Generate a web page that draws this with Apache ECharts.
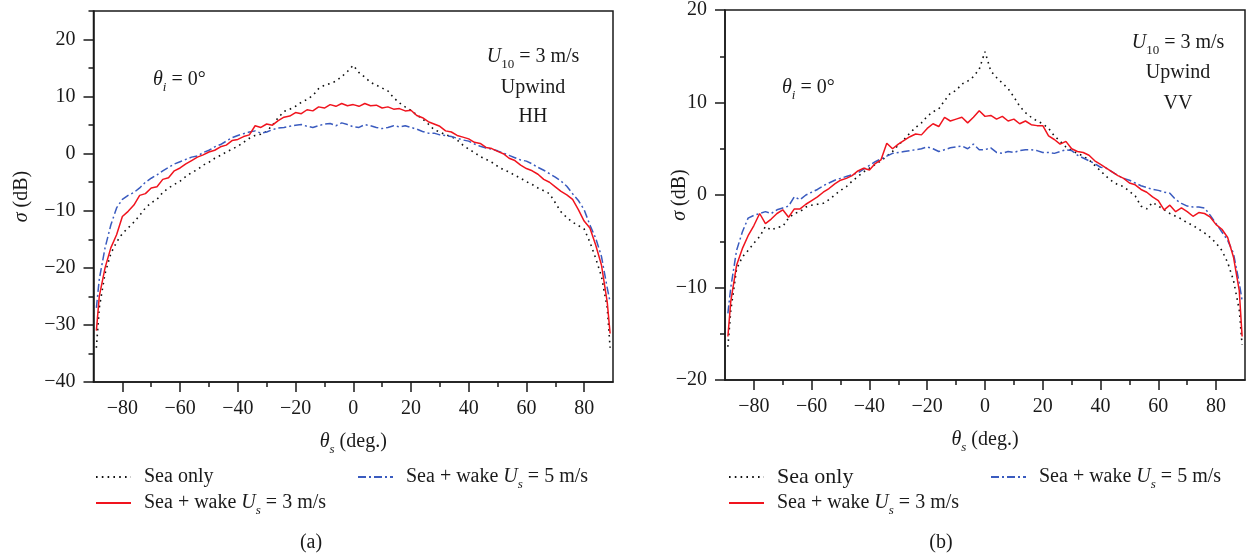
<!DOCTYPE html>
<html>
<head>
<meta charset="utf-8">
<script src="https://cdn.jsdelivr.net/npm/echarts@6/dist/echarts.min.js"></script>
<style>
html,body{margin:0;padding:0;background:#fff;}
#chart{width:1252px;height:557px;}
</style>
</head>
<body>
<div id="chart"></div>
<script>
// scattering angle theta_s (deg.)
const theta = [-89,-88,-86,-84,-82,-80,-78,-76,-74,-72,-70,-68,-66,-64,-62,-60,-58,-56,-54,-52,-50,-48,-46,-44,-42,-40,-38,-36,-34,-32,-30,-28,-26,-24,-22,-20,-18,-16,-14,-12,-10,-8,-6,-4,-2,0,2,4,6,8,10,12,14,16,18,20,22,24,26,28,30,32,34,36,38,40,42,44,46,48,50,52,54,56,58,60,62,64,66,68,70,72,74,76,78,80,82,84,86,88,89];

// (a) HH
const hhSea = [-34,-27,-21,-17.5,-15.5,-14,-13,-12,-10.8,-9.5,-8.6,-8.0,-6.8,-6.0,-5.4,-4.8,-4.0,-3.3,-2.8,-2.0,-1.5,-0.8,-0.3,0.3,0.8,1.3,2.0,2.7,3.2,3.4,3.9,5.0,6.3,7.4,7.8,8.3,9.0,9.5,10.2,11.4,12.0,12.3,12.7,13.5,14.4,15.5,14.2,13.4,12.5,12.0,11.5,11.0,9.8,8.9,8.2,7.6,6.8,6.1,5.2,4.2,3.8,3.3,3.0,2.4,1.5,0.8,0.2,-0.5,-1.0,-1.5,-2.2,-2.8,-3.2,-3.8,-4.3,-4.9,-5.4,-6.0,-6.5,-7.0,-8.6,-10.2,-11.2,-12.0,-12.6,-13.2,-15.5,-18.3,-21.5,-27,-34];
const hhWake3 = [-31,-25,-20,-16.5,-14.2,-11,-10.1,-9,-7.3,-7,-6.0,-5.8,-4.5,-4.2,-3.0,-2.5,-1.8,-1.2,-0.6,-0.2,0.3,0.6,1.2,1.5,2.3,2.5,3.0,3.3,4.9,4.6,5.2,5.0,5.8,6.4,6.6,7.2,7.0,7.7,7.5,8.2,8.0,8.6,8.3,8.8,8.4,8.6,8.3,8.8,8.4,8.5,8.0,8.2,7.8,7.9,7.5,7.6,6.7,6.3,5.6,5.2,4.8,4.0,3.8,3.2,2.9,2.6,2.0,1.8,1.1,0.9,0.4,0.0,-0.8,-1.2,-2.0,-2.6,-3.0,-3.6,-4.5,-5.0,-5.8,-6.6,-7.2,-8.0,-9.8,-11.8,-13,-16,-19.5,-26,-31.5];
const hhWake5 = [-27,-22,-16.5,-12.5,-9.5,-8.0,-7.3,-6.8,-6.0,-5.0,-4.3,-3.7,-3.0,-2.4,-1.8,-1.4,-1.0,-0.6,-0.4,0.2,0.6,1.2,1.6,2.2,2.8,3.2,3.5,3.8,4.0,3.6,3.8,4.2,4.5,4.6,4.8,5.0,5.1,4.8,4.6,4.9,5.2,5.3,4.9,5.4,5.1,4.7,4.6,5.1,4.9,4.6,4.4,4.6,4.9,4.7,4.9,4.6,4.3,3.9,3.6,3.6,3.3,3.2,3.0,2.7,2.4,2.2,1.7,1.3,1.0,0.8,0.5,0.1,-0.3,-0.7,-1.1,-1.3,-1.8,-2.4,-2.9,-3.5,-4.1,-4.8,-5.7,-7.0,-8.2,-9.8,-12.5,-14.8,-18,-23.5,-26];

// (b) VV
const vvSea = [-16.4,-12.5,-8.0,-6.7,-6.0,-5.2,-4.5,-3.4,-3.8,-3.5,-3.4,-2.5,-2.0,-1.8,-1.3,-1.1,-1.0,-0.9,-0.5,0.0,0.5,0.9,1.5,2.0,2.5,2.9,3.3,3.7,4.2,4.7,5.4,6.0,6.7,7.3,7.8,8.5,9.0,9.3,10.2,11.0,11.3,12.0,12.3,12.8,13.6,15.5,13.4,12.7,12.1,11.5,10.6,9.6,8.9,8.4,8.0,7.7,7.2,6.4,5.8,5.2,4.8,4.5,4.2,3.8,3.2,2.6,2.0,1.5,1.1,0.9,0.4,-0.1,-1.2,-1.5,-0.8,-1.2,-1.6,-2.0,-2.3,-2.6,-3.0,-3.3,-3.7,-4.1,-4.6,-5.2,-6.0,-7.3,-9.2,-12.4,-16.2];
const vvWake3 = [-15.3,-11.5,-7.6,-5.8,-4.4,-3.3,-2.0,-3.1,-2.6,-2.0,-1.6,-2.4,-1.5,-1.5,-1.0,-0.6,-0.2,0.3,0.7,1.2,1.6,1.8,2.1,2.6,2.9,2.7,3.4,3.8,5.6,5.0,5.5,5.9,6.3,6.6,6.5,7.2,7.7,7.4,8.4,8.0,8.2,8.4,7.8,8.4,9.1,8.5,8.6,8.2,8.5,8.0,8.2,7.7,8.0,7.6,7.5,7.5,6.4,6.0,5.5,5.8,5.0,4.7,4.6,4.3,3.7,3.3,2.9,2.5,2.1,1.8,1.3,1.1,0.6,0.3,-0.2,-0.6,-1.6,-1.1,-1.8,-1.4,-1.8,-2.3,-1.9,-2.0,-2.4,-3.2,-3.7,-4.6,-6.7,-10.3,-15.3];
const vvWake5 = [-12.8,-10,-6,-4.0,-2.5,-2.2,-2.0,-1.8,-2.0,-1.6,-1.4,-1.2,-0.2,-0.5,0.0,0.3,0.6,1.0,1.3,1.6,1.8,2.0,2.2,2.4,2.8,3.2,3.6,3.9,4.2,4.5,4.6,4.7,4.8,4.9,5.0,5.2,5.0,4.7,4.9,5.1,5.2,5.3,5.0,5.5,4.9,4.9,5.1,4.6,4.5,4.7,4.6,4.8,4.9,4.9,4.8,4.6,4.6,4.5,4.7,4.9,4.8,4.3,4.0,3.7,3.4,3.0,2.9,2.5,2.1,1.8,1.6,1.3,1.0,0.8,0.6,0.5,0.3,0.2,-0.5,-0.9,-1.2,-1.3,-1.3,-1.4,-2.2,-3.1,-4.0,-4.9,-6.3,-9.5,-11.4];

// tick values
const xMajor = [-80,-60,-40,-20,0,20,40,60,80];
const xMinor = [-70,-50,-30,-10,10,30,50,70];
const yMajorA = [-40,-30,-20,-10,0,10,20];
const yMinorA = [-35,-25,-15,-5,5,15,25];
const yMajorB = [-20,-10,0,10,20];
const yMinorB = [-15,-5,5,15];

const FONT = 'Liberation Serif';
const INK = '#1a1a1a';
const rich = {
  n: {fontFamily: FONT, fontSize: 20, color: INK, lineHeight: 28},
  i: {fontFamily: FONT, fontSize: 20, fontStyle: 'italic', color: INK, lineHeight: 28},
  sub: {fontFamily: FONT, fontSize: 13, fontStyle: 'italic', color: INK, lineHeight: 13, verticalAlign: 'bottom'},
  subr: {fontFamily: FONT, fontSize: 13, color: INK, lineHeight: 13, verticalAlign: 'bottom'},
  gap: {width: 8}
};
const richBig = Object.assign({}, rich, {nb: {fontFamily: FONT, fontSize: 22, color: INK, lineHeight: 28}});

const pair = arr => theta.map((t, k) => [t, arr[k]]);
const fmt = v => (v < 0 ? '\u2212' + (-v) : '' + v);

function xAxes(grid) {
  return [
    {gridIndex: grid, type: 'value', min: -90, max: 90, interval: 10, position: 'bottom',
     axisLine: {show: true, onZero: false, lineStyle: {color: INK, width: 1.5}},
     axisTick: {show: true, customValues: xMajor, length: 10, lineStyle: {color: INK, width: 1.5}},
     axisLabel: {show: true, customValues: xMajor, margin: 17, fontFamily: FONT, fontSize: 20, color: INK, formatter: fmt},
     splitLine: {show: false},
     name: '{i|θ}{sub|s}{n| (deg.)}', nameLocation: 'middle', nameGap: 46, nameMoveOverlap: false,
     nameTextStyle: {rich: rich}},
    {gridIndex: grid, type: 'value', min: -90, max: 90, interval: 10, position: 'bottom',
     axisLine: {show: false, onZero: false},
     axisTick: {show: true, customValues: xMinor, length: 5, lineStyle: {color: INK, width: 1.5}},
     axisLabel: {show: false}, splitLine: {show: false}}
  ];
}
function yAxes(grid, min, max, major, minor, gap) {
  return [
    {gridIndex: grid, type: 'value', min: min, max: max, interval: 10, position: 'left',
     axisLine: {show: true, onZero: false, lineStyle: {color: INK, width: 1.5}},
     axisTick: {show: true, customValues: major, length: 10, lineStyle: {color: INK, width: 1.5}},
     axisLabel: {show: true, customValues: major, margin: 18, fontFamily: FONT, fontSize: 20, color: INK, formatter: fmt},
     splitLine: {show: false},
     name: '{i|σ}{n| (dB)}', nameLocation: 'middle', nameGap: gap, nameRotate: 90, nameMoveOverlap: false,
     nameTextStyle: {rich: rich}},
    {gridIndex: grid, type: 'value', min: min, max: max, interval: 10, position: 'left',
     axisLine: {show: false, onZero: false},
     axisTick: {show: true, customValues: minor, length: 5, lineStyle: {color: INK, width: 1.5}},
     axisLabel: {show: false}, splitLine: {show: false}}
  ];
}

const styles = {
  'Sea only': {color: '#111', width: 1.6, type: [1.6, 4.2]},
  'Sea + wake 5': {color: '#3a5bbf', width: 1.5, type: [8, 3, 2, 3]},
  'Sea + wake 3': {color: '#f0141e', width: 1.5, type: 'solid'}
};
function mkSeries(name, arr, ax) {
  const s = styles[name];
  return {name: name, type: 'line', xAxisIndex: ax, yAxisIndex: ax, data: pair(arr),
    showSymbol: false, symbol: 'none', animation: false, silent: true,
    itemStyle: {color: s.color},
    lineStyle: {color: s.color, width: s.width, type: s.type, cap: 'butt'}};
}

const legendText = {
  'Sea only': '{gap|}{n|Sea only}',
  'Sea + wake 3': '{gap|}{n|Sea + wake }{i|U}{sub|s}{n| = 3 m/s}',
  'Sea + wake 5': '{gap|}{n|Sea + wake }{i|U}{sub|s}{n| = 5 m/s}'
};
function mkLegend(name, left, cy, big) {
  return {data: [name], left: left, top: cy - 14, padding: 0, itemWidth: 35, itemHeight: 14,
    selectedMode: false,
    itemStyle: {opacity: 0},
    formatter: nm => (big && nm === 'Sea only') ? '{gap|}{nb|Sea only}' : legendText[nm],
    textStyle: {rich: big ? richBig : rich, lineHeight: 28}};
}

function label(x, y, text, align) {
  return {type: 'text', x: x, y: y, silent: true,
    style: {text: text, rich: rich, align: align || 'center', verticalAlign: 'middle',
      font: '20px "Liberation Serif"', fill: INK}};
}

const chart = echarts.init(document.getElementById('chart'), null, {renderer: 'canvas'});
chart.setOption({
  backgroundColor: '#fff',
  animation: false,
  grid: [
    {left: 93.5, top: 11, width: 519.5, height: 371, show: true, borderColor: INK, borderWidth: 1.5, backgroundColor: 'transparent'},
    {left: 725, top: 10, width: 520, height: 370, show: true, borderColor: INK, borderWidth: 1.5, backgroundColor: 'transparent'}
  ],
  xAxis: [].concat(xAxes(0), xAxes(1)),
  yAxis: [].concat(yAxes(0, -40, 25, yMajorA, yMinorA, 58), yAxes(1, -20, 20, yMajorB, yMinorB, 31)),
  legend: [
    mkLegend('Sea only', 95, 477, false),
    mkLegend('Sea + wake 3', 95, 503, false),
    mkLegend('Sea + wake 5', 357, 477, false),
    mkLegend('Sea only', 728, 477, true),
    mkLegend('Sea + wake 3', 728, 503, false),
    mkLegend('Sea + wake 5', 990, 477, false)
  ],
  series: [
    mkSeries('Sea only', hhSea, 0),
    mkSeries('Sea + wake 5', hhWake5, 0),
    mkSeries('Sea + wake 3', hhWake3, 0),
    mkSeries('Sea only', vvSea, 2),
    mkSeries('Sea + wake 5', vvWake5, 2),
    mkSeries('Sea + wake 3', vvWake3, 2)
  ],
  graphic: [
    label(153, 80, '{i|θ}{sub|i}{n| = 0°}', 'left'),
    label(533, 57, '{i|U}{subr|10}{n| = 3 m/s}'),
    label(533, 88, '{n|Upwind}'),
    label(533, 117, '{n|HH}'),
    label(782, 88, '{i|θ}{sub|i}{n| = 0°}', 'left'),
    label(1178, 43, '{i|U}{subr|10}{n| = 3 m/s}'),
    label(1178, 73, '{n|Upwind}'),
    label(1178, 104, '{n|VV}'),
    label(311, 543, '{n|(a)}'),
    label(941, 543, '{n|(b)}')
  ]
});
</script>
</body>
</html>
